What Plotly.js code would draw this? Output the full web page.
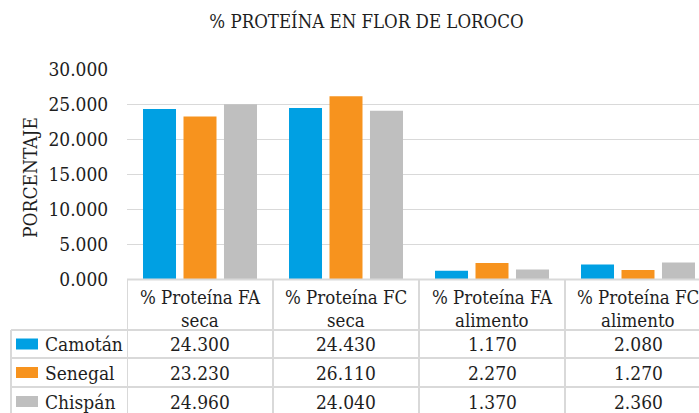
<!DOCTYPE html>
<html>
<head>
<meta charset="utf-8">
<script src="https://cdn.plot.ly/plotly-3.0.1.min.js"></script>
<style>
html, body { margin: 0; padding: 0; overflow: hidden; background: #fff; }
#chart { width: 711px; height: 413px; }
</style>
</head>
<body>
<div id="chart"></div>
<script>
// ---- data ----
const categories = ['% Proteína FA seca', '% Proteína FC seca', '% Proteína FA alimento', '% Proteína FC alimento'];
const headerLine1 = ['% Proteína FA', '% Proteína FC', '% Proteína FA', '% Proteína FC'];
const headerLine2 = ['seca', 'seca', 'alimento', 'alimento'];
const seriesNames = ['Camotán', 'Senegal', 'Chispán'];
const camotan = [24.300, 24.430, 1.170, 2.080];
const senegal = [23.230, 26.110, 2.270, 1.270];
const chispan = [24.960, 24.040, 1.370, 2.360];
const yTickValues = [0, 5, 10, 15, 20, 25, 30];
const chartTitle = '% PROTEÍNA EN FLOR DE LOROCO';
const yTitle = 'PORCENTAJE';

// ---- styles ----
const colors = ['#00a0e3', '#f7931e', '#bfbfbf'];
const FONT = 'DejaVu Serif Condensed, DejaVu Serif, serif';
const TXT = '#1e1e1e';
const LINE = '#d9d9d9';

const W = 711, H = 413, ML = 127, MR = 0, MT = 69, MB = 134;
const PW = W - ML - MR, PH = H - MT - MB;
const px2x = p => (p - ML) / PW;
const py2y = p => (H - MB - p) / PH;

const allSeries = [camotan, senegal, chispan];
const traces = allSeries.map((vals, i) => ({
  type: 'bar', x: categories, y: vals, name: seriesNames[i],
  marker: { color: colors[i] }, hoverinfo: 'x+y+name'
}));

const annotations = [];
const shapes = [];

// y-axis title
annotations.push({ xref: 'paper', yref: 'paper', x: px2x(30), y: py2y(178), text: yTitle,
  textangle: -90, showarrow: false, font: { family: FONT, size: 19, color: TXT },
  xanchor: 'center', yanchor: 'middle' });

// header rows
categories.forEach((c, j) => {
  annotations.push({ xref: 'x', yref: 'paper', x: c, y: py2y(297), text: headerLine1[j], showarrow: false,
    font: { family: FONT, size: 18.5, color: TXT }, xanchor: 'center', yanchor: 'middle' });
  annotations.push({ xref: 'x', yref: 'paper', x: c, y: py2y(320), text: headerLine2[j], showarrow: false,
    font: { family: FONT, size: 18.5, color: TXT }, xanchor: 'center', yanchor: 'middle' });
});

// data rows
const rowCenters = [344, 372.5, 401.5];
allSeries.forEach((vals, i) => {
  const yc = py2y(rowCenters[i]);
  annotations.push({ xref: 'paper', yref: 'paper', x: px2x(43), y: yc, text: seriesNames[i], showarrow: false,
    font: { family: FONT, size: 19, color: TXT }, xanchor: 'left', yanchor: 'middle' });
  shapes.push({ type: 'rect', xref: 'paper', yref: 'paper', x0: px2x(16), x1: px2x(38),
    y0: py2y(rowCenters[i] - 5.5), y1: py2y(rowCenters[i] + 5.5), fillcolor: colors[i], line: { width: 0 } });
  vals.forEach((v, j) => {
    annotations.push({ xref: 'x', yref: 'paper', x: categories[j], y: yc, text: v.toFixed(3), showarrow: false,
      font: { family: FONT, size: 19, color: TXT }, xanchor: 'center', yanchor: 'middle' });
  });
});

// table grid lines
const hl = (y, x0p) => shapes.push({ type: 'line', xref: 'paper', yref: 'paper', x0: px2x(x0p), x1: 1.02,
  y0: py2y(y), y1: py2y(y), line: { color: LINE, width: 2 } });
hl(279.5, ML); hl(330, 11); hl(358, 11); hl(387, 11); hl(415, 11);
shapes.push({ type: 'line', xref: 'paper', yref: 'paper', x0: px2x(11), x1: px2x(11), y0: py2y(330), y1: py2y(420),
  line: { color: LINE, width: 2 } });
for (let k = 0; k <= categories.length; k++) {
  shapes.push({ type: 'line', xref: 'x', yref: 'paper', x0: k - 0.5, x1: k - 0.5, y0: 0, y1: py2y(420),
    line: { color: LINE, width: 2 } });
}

const layout = {
  width: W, height: H,
  margin: { l: ML, r: MR, t: MT, b: MB, pad: 0 },
  paper_bgcolor: '#fff', plot_bgcolor: '#fff',
  title: { text: chartTitle, xref: 'container', yref: 'container', x: 366.5 / W, y: 1 - 22 / H,
    xanchor: 'center', yanchor: 'middle', font: { family: FONT, size: 18.5, color: TXT } },
  showlegend: false,
  barmode: 'group', bargap: 0.168, bargroupgap: 0.185,
  xaxis: { type: 'category', showticklabels: false, showgrid: false, zeroline: false, showline: false,
    ticks: '', range: [-0.5, categories.length - 0.5], fixedrange: true },
  yaxis: { range: [0, 30], tickvals: yTickValues, tickformat: '.3f', showgrid: true, gridcolor: LINE, gridwidth: 1,
    zeroline: false, showline: false, ticks: 'outside', ticklen: 14, tickcolor: 'rgba(0,0,0,0)',
    tickfont: { family: FONT, size: 19, color: TXT }, fixedrange: true },
  annotations: annotations,
  shapes: shapes
};

Plotly.newPlot('chart', traces, layout, { displayModeBar: false, staticPlot: true });
</script>
</body>
</html>
